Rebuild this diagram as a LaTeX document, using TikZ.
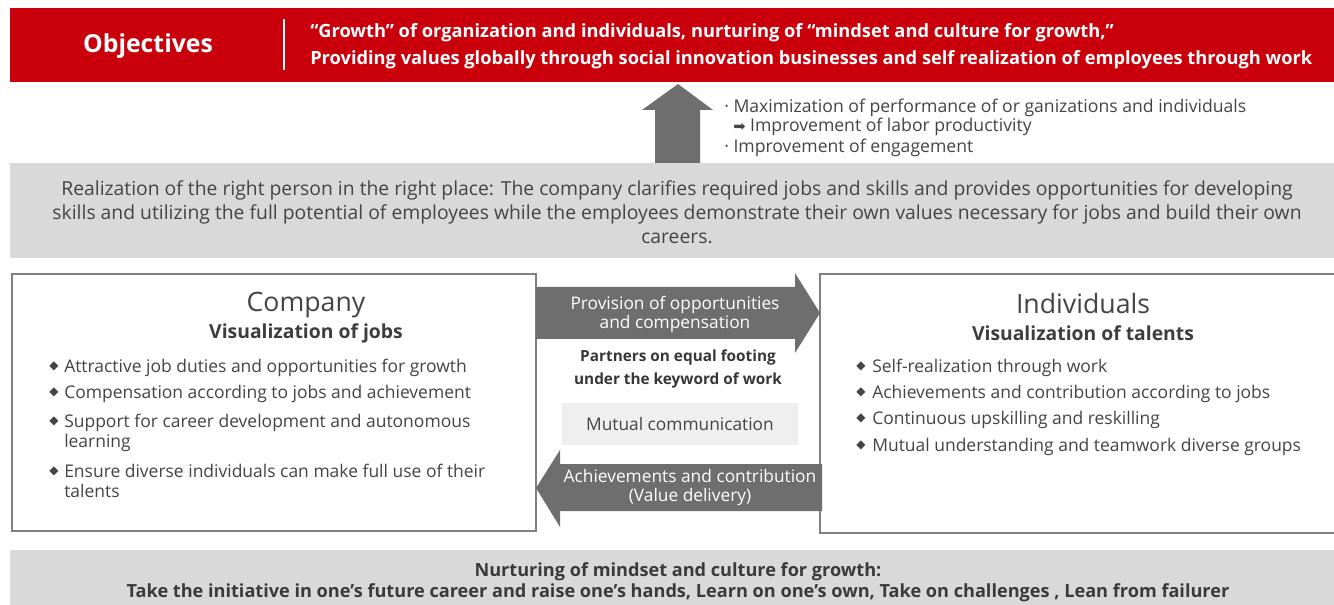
\documentclass[tikz,border=0pt]{standalone}
\usepackage{fontspec}
\setmainfont{Open Sans}
\newfontfamily\symf{DejaVu Sans}
\definecolor{objred}{HTML}{C9000B}
\definecolor{bandgray}{HTML}{D9D9D9}
\definecolor{arrgray}{HTML}{6E6E6E}
\definecolor{boxline}{HTML}{808080}
\definecolor{txt}{HTML}{444444}
\definecolor{commfill}{HTML}{EFEFEF}
\tikzset{
  body/.style={font=\fontsize{13.1}{15}\selectfont, text=txt, inner sep=0pt},
  bodyl/.style={body, anchor=west, align=left, yshift=-1.5pt},
  efftxt/.style={bodyl, font=\fontsize{13.2}{15}\selectfont},
  dia/.style={font=\symf\fontsize{9}{9}\selectfont, text=txt, inner sep=0pt},
  head/.style={font=\fontsize{20}{22}\selectfont, text=txt, inner sep=0pt, yshift=-1.5pt},
  subhead/.style={font=\bfseries\fontsize{14.5}{16}\selectfont, text=txt!90!black, inner sep=0pt, yshift=-0.8pt},
  arrtxt/.style={font=\fontsize{13}{14.5}\selectfont, text=white, align=center, inner sep=0pt, yshift=-1.2pt},
  bigarrow/.style={fill=arrgray},
  panel/.style={draw=boxline, line width=1.5pt, fill=white},
}
\begin{document}
\begin{tikzpicture}[x=0.75pt,y=-0.75pt]
\useasboundingbox (0,0) rectangle (1334,605);
% objectives banner
\fill[objred] (10,8) rectangle (1336,82);
\node[font=\bfseries\fontsize{18.6}{20}\selectfont, text=white, inner sep=0pt] (obj) at (148,46) {Objectives};
\coordinate (divtop) at (284,19);
\coordinate (divbot) at (284,70);
\draw[white, line width=0.8pt] (divtop) -- (divbot);
\node[font=\bfseries\fontsize{13.7}{20}\selectfont, text=white, anchor=west, align=left, inner sep=0pt] (objtxt) at (310,46)
  {“Growth” of organization and individuals, nurturing of “mindset and culture for growth,”\\
   Providing values globally through social innovation businesses and self realization of employees through work};
% up arrow
\fill[bigarrow] (655,164) -- (655,110) -- (642,110) -- (678,84) -- (713,110) -- (700,110) -- (700,164) -- cycle;
\node[efftxt] (eff1) at (724,106) {· Maximization of performance of or ganizations and individuals};
\node[efftxt] (eff2) at (733,125) {{\symf\fontsize{11}{11}\selectfont ➡} Improvement of labor productivity};
\node[efftxt] (eff3) at (724,146) {· Improvement of engagement};
% realization band
\fill[bandgray] (10,163) rectangle (1336,258);
\node[body, font=\fontsize{14.5}{18}\selectfont, align=center] (real) at (677,212)
  {Realization of the right person in the right place: The company clarifies required jobs and skills and provides opportunities for developing\\
   skills and utilizing the full potential of employees while the employees demonstrate their own values necessary for jobs and build their own\\
   careers.};
% panels
\draw[panel] (12,274) rectangle (536,531);
\draw[panel] (820,274) rectangle (1338,533);
% company
\node[head] (comp) at (306,303) {Company};
\node[subhead] (compsub) at (306,332) {Visualization of jobs};
\node[dia] (cd1) at (54,366) {◆};
\node[bodyl] (c1) at (64,366) {Attractive job duties and opportunities for growth};
\node[dia] (cd2) at (54,392) {◆};
\node[bodyl] (c2) at (64,392) {Compensation according to jobs and achievement};
\node[dia] (cd3) at (54,421) {◆};
\node[bodyl, anchor=north west] (c3) at (64,412) {Support for career development and autonomous\\learning};
\node[dia] (cd4) at (54,471) {◆};
\node[bodyl, anchor=north west] (c4) at (64,462) {Ensure diverse individuals can make full use of their\\talents};
% individuals
\node[head] (ind) at (1083,302) {Individuals};
\node[subhead] (indsub) at (1083,332) {Visualization of talents};
\node[dia] (id1) at (861,366) {◆};
\node[bodyl] (i1) at (872,366) {Self-realization through work};
\node[dia] (id2) at (861,392) {◆};
\node[bodyl] (i2) at (872,392) {Achievements and contribution according to jobs};
\node[dia] (id3) at (861,418) {◆};
\node[bodyl] (i3) at (872,418) {Continuous upskilling and reskilling};
\node[dia] (id4) at (861,445) {◆};
\node[bodyl] (i4) at (872,445) {Mutual understanding and teamwork diverse groups};
% right arrow
\fill[bigarrow] (536,287) -- (795,287) -- (795,273) -- (820,313) -- (795,353) -- (795,339) -- (536,339) -- cycle;
\node[arrtxt] (prov) at (675,313) {Provision of opportunities\\and compensation};
% partners
\node[font=\bfseries\fontsize{11.5}{17}\selectfont, text=txt!80!black, align=center, inner sep=0pt] (partners) at (678,369)
  {Partners on equal footing\\under the keyword of work};
% mutual communication
\node[fill=commfill, minimum width=177pt, minimum height=31.5pt, inner sep=0pt, body, font=\fontsize{13}{14}\selectfont] (mutual) at (680,424) {Mutual communication};
% left arrow
\fill[bigarrow] (822,464) -- (560,464) -- (560,450) -- (536,488) -- (560,527) -- (560,511) -- (822,511) -- cycle;
\node[arrtxt] (ach) at (690,486) {Achievements and contribution\\(Value delivery)};
% bottom band
\fill[bandgray] (10,550) rectangle (1336,610);
\node[font=\bfseries\fontsize{13.6}{15.5}\selectfont, text=txt!85!black, align=center, inner sep=0pt] (nurt) at (678,582)
  {Nurturing of mindset and culture for growth:\\
   Take the initiative in one’s future career and raise one’s hands, Learn on one’s own, Take on challenges , Lean from failurer};
\end{tikzpicture}
\end{document}
